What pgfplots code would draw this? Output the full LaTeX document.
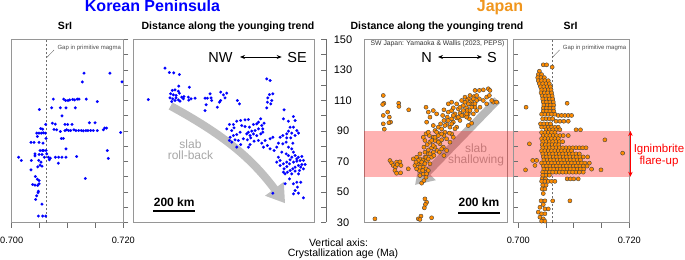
\documentclass[border=0pt]{standalone}
\usepackage{fontspec}
\setmainfont{Liberation Sans}
\usepackage{pgfplots}
\pgfplotsset{compat=1.18}
\usetikzlibrary{arrows.meta}
\definecolor{kblue}{RGB}{0,0,255}
\definecolor{jorange}{RGB}{255,140,0}
\definecolor{jtitle}{RGB}{240,150,30}
\definecolor{framec}{RGB}{150,150,150}
\definecolor{tickc}{RGB}{110,110,110}
\begin{document}
\begin{tikzpicture}
\path[use as bounding box] (0,0) rectangle (685bp,260bp);
\pgfplotsset{
 panel/.style={scale only axis, height=183bp, ymin=30, ymax=150, anchor=south west,
   axis line style={framec, line width=0.7bp}, tick style={tickc, line width=0.7bp},
   major tick length=5bp, xtick=\empty, ytick=\empty,
   tick label style={font=\fontsize{9.2bp}{10bp}\selectfont}},
 kdots/.style={only marks, mark=*, mark size=1.45bp, mark options={fill=kblue, draw=kblue, line width=0.1bp}},
 jdots/.style={only marks, mark=*, mark size=2.05bp, mark options={fill=jorange, draw=black!75, line width=0.4bp}},
}
% ---------------- Panel 1: Korea SrI
\begin{axis}[panel, at={(11.7bp,37.5bp)}, width=111.6bp, xmin=0.700, xmax=0.720,
  xtick={0.700,0.705,0.710,0.715,0.720}, xticklabels={0.700,,,,0.720},
  ytick={30,40,...,150}, yticklabels={}, xtick pos=left, ytick pos=right, tick align=outside,
  xticklabel style={yshift=-6bp}]
\draw[tickc, dash pattern=on 2.5bp off 1.5bp, line width=0.6bp] (axis cs:0.7062,30) -- (axis cs:0.7062,150);
\addplot[kdots] coordinates {
(0.71296,127.9)(0.71761,127.9)(0.71266,122.2)(0.71976,122.2)
(0.70746,110.9)(0.70931,110.9)(0.70967,110.0)(0.71009,110.0)(0.71039,110.4)(0.71093,110.7)(0.71128,110.4)(0.71176,110.9)(0.71206,110.9)(0.71337,110.9)(0.71534,109.3)
(0.70496,104.1)(0.70716,105.2)(0.70872,105.2)(0.70973,105.2)(0.71140,105.2)(0.70901,99.9)
(0.70609,94.3)(0.70728,95.1)(0.70782,94.5)(0.70955,94.3)(0.71003,94.3)(0.71081,94.3)(0.71391,95.4)(0.71493,95.4)
(0.70519,91.6)(0.70555,91.2)(0.70758,91.0)(0.70806,90.8)(0.70872,89.7)(0.70955,90.3)(0.70985,90.8)(0.71021,90.3)(0.71057,90.3)(0.71116,90.8)(0.71152,90.3)(0.71200,90.3)(0.71248,90.3)(0.71284,90.1)(0.71331,90.3)(0.71367,90.3)(0.71415,90.3)(0.71463,90.3)(0.71534,90.3)(0.71642,90.8)(0.71666,91.9)(0.71701,91.9)(0.71952,89.0)
(0.70448,88.6)(0.70490,88.6)(0.70531,88.6)(0.70567,88.8)(0.70603,88.6)(0.70460,86.4)(0.70615,85.1)(0.70890,85.1)(0.70925,85.1)
(0.70346,82.5)(0.70400,82.5)(0.70490,82.5)(0.70561,82.0)(0.70973,78.3)(0.71713,77.2)(0.70508,77.2)(0.70549,77.2)(0.70573,77.2)(0.70615,77.2)
(0.70418,75.0)(0.70490,74.6)(0.70543,74.6)(0.70627,75.0)
(0.70125,72.8)(0.70173,70.7)(0.70418,73.7)(0.70585,72.8)(0.70657,72.8)(0.70693,72.2)(0.70782,72.8)(0.70842,72.8)(0.70901,72.8)(0.70973,72.8)(0.71164,73.3)(0.71731,72.0)
(0.70352,70.7)(0.70484,70.7)(0.70525,69.6)(0.70675,71.1)(0.70836,68.9)
(0.70508,67.6)(0.70466,66.5)(0.70543,66.9)(0.70346,64.5)(0.70424,60.2)(0.70460,58.4)(0.70490,57.5)(0.71320,58.9)
(0.70376,54.9)(0.70418,54.5)(0.70466,54.3)(0.70490,55.4)
(0.70478,50.5)(0.70472,49.5)(0.70448,47.5)(0.70430,45.1)(0.70543,42.0)
(0.70478,34.2)(0.70555,34.2)(0.70609,34.2)};
\end{axis}
% ---------------- Panel 2: Korea distance
\begin{axis}[panel, at={(133.3bp,37.5bp)}, width=181bp, xmin=0, xmax=868]
\draw[black!25, line width=8bp, -{Triangle[width=22bp,length=18bp]}] (axis cs:179,106.4) .. controls (axis cs:419.5,88.4) and (axis cs:560,73.6) .. (axis cs:728,42.6);
\addplot[kdots] coordinates {
(72,110.6)(152,131.2)(173,128.4)(194,128.1)(221,127.0)(218,119.4)(269,118.7)
(187,116.6)(200,117.0)(216,116.1)(179,114.4)(192,113.7)(205,113.3)(221,114.8)(176,111.7)(189,111.1)(205,111.7)(216,110.4)(232,112.2)(240,111.1)(184,109.3)(224,109.6)(243,112.6)(200,110.0)
(264,112.2)(277,111.1)(296,111.5)(266,110.2)(344,111.5)(368,114.4)(355,111.5)(373,111.7)(376,110.0)(349,107.2)(344,103.4)(403,105.6)(419,115.5)(432,113.7)(440,111.7)(419,110.0)(413,108.9)(448,114.8)(499,110.0)(509,107.8)
(640,124.2)(656,123.1)(669,114.4)(653,113.9)(645,111.7)(664,110.0)(643,108.9)(659,107.8)(640,105.2)
(536,97.3)(552,97.5)(515,96.9)(496,96.4)(480,94.3)(461,94.3)(448,91.4)(472,90.3)(483,92.1)(520,93.6)(536,92.9)(557,92.5)(576,94.3)(592,94.7)(611,98.0)(600,95.8)(616,93.6)(627,95.1)(621,91.4)(600,91.4)(584,90.3)(568,89.9)(552,89.2)(544,88.1)(560,87.0)(576,88.1)(592,87.0)(611,88.1)(621,89.2)(512,89.2)(496,87.7)(480,87.0)(464,85.9)(461,83.8)(472,82.7)(488,84.2)(504,83.8)(515,81.1)(496,79.4)(528,84.9)(547,84.2)(563,85.5)(579,83.3)(560,81.1)(552,79.4)(600,83.8)(616,82.0)(632,83.8)(643,80.5)(656,84.9)(669,85.9)(624,79.4)(656,78.3)(675,77.2)(688,79.4)(696,82.0)(704,85.9)(717,87.0)(736,85.5)(733,82.7)
(723,103.9)(720,98.0)(744,96.4)(768,99.5)(776,96.9)(752,92.5)(768,92.5)(784,90.3)(744,89.9)(760,88.6)(776,87.0)(792,88.6)(755,85.5)(736,88.1)(765,82.0)(712,76.1)(733,75.0)(744,73.9)(760,72.8)(776,73.9)(792,72.8)(808,73.3)(816,70.7)(800,70.7)(784,70.2)(768,69.6)(752,71.1)(736,69.6)(720,68.5)(704,67.4)(688,69.6)(723,65.2)(736,66.7)(752,64.1)(776,66.3)(792,67.4)(808,68.0)(824,68.0)(816,65.2)(797,64.1)(776,63.7)(760,61.9)(739,63.0)(728,61.9)(720,63.0)(749,58.6)(728,55.4)(768,55.4)(784,56.4)(803,56.4)(787,53.2)(776,51.0)(768,48.8)(792,49.2)(816,46.2)(669,49.2)
(696,72.8)(704,70.7)(784,71.7)(803,66.3)(765,65.2)(749,68.5)(792,61.9)(717,81.6)(744,79.4)(760,78.3)(768,76.1)};
\end{axis}
% ---------------- Y axis of panel 3
\begin{axis}[scale only axis, anchor=south west, at={(320bp,37.5bp)}, width=6bp, height=183bp,
  xmin=0, xmax=1, ymin=30, ymax=150, axis x line=none, axis y line=right,
  axis line style={tickc, line width=0.7bp, -}, tick style={tickc, line width=0.7bp},
  major tick length=5.5bp, tick align=inside, xtick=\empty,
  ytick={30,40,...,150}, yticklabels={30,,50,,70,,90,,110,,130,,150},
  yticklabel style={anchor=center, xshift=17bp, font=\fontsize{11bp}{12bp}\selectfont}]
\addplot[draw=none] coordinates {(0,30)};
\end{axis}
% ---------------- Panel 3: Japan distance
\begin{axis}[panel, at={(364.3bp,37.5bp)}, width=143bp, xmin=0, xmax=686, clip=false]
\draw[black!28, line width=8bp, -{Triangle[width=22bp,length=18bp]}] (axis cs:638,110.3) -- (axis cs:243,54.6);
\node[anchor=base, text=black!32, font=\fontsize{12bp}{13bp}\selectfont] at (axis cs:536,75.8) {slab};
\node[anchor=base, text=black!32, font=\fontsize{12bp}{13bp}\selectfont] at (axis cs:536,68.4) {shallowing};
\fill[red, opacity=0.3] (axis cs:0,60) rectangle (axis cs:1272,90);
\addplot[jdots] coordinates {
(91,113.3)(94,108.2)(88,107.4)(91,100.2)(112,102.4)(120,99.1)(91,94.7)(96,91.2)(126,95.8)(118,95.4)(165,108.2)(166,106.1)(213,103.9)
(123,70.65)(131,69.1)(139,67.4)(149,66.3)(155,69.6)(158,68.0)(171,69.8)(176,67.4)(147,64.1)(155,62.3)(174,62.6)(211,65.2)
(291,45.5)(299,43.3)(293,41.8)(288,39.6)(259,32.4)(272,34.2)(267,32.0)(323,33.1)(51,32.4)
(275,55.8)(286,57.5)(296,59.7)(267,60.8)(283,61.9)(264,64.1)(251,65.2)(243,67.4)(256,68.5)(270,67.4)(283,66.3)(296,65.2)(307,64.1)
(235,71.7)(251,72.8)(267,71.7)(283,71.1)(299,70.7)(315,68.5)(323,72.8)(267,75.0)(291,76.1)(307,75.0)(331,76.1)
(286,79.4)(302,81.1)(291,83.8)(315,82.7)(339,79.4)(350,77.2)(283,85.9)(296,88.1)(312,87.0)(331,85.9)(347,83.8)(363,81.6)(379,79.4)
(339,90.3)(355,92.5)(331,93.6)(371,91.4)(387,89.2)(360,88.1)(366,94.7)(382,96.9)(395,94.3)(411,92.5)
(376,100.2)(398,99.1)(419,98.0)(427,95.8)(403,102.4)(419,103.4)(435,101.2)(443,98.6)(451,104.5)(459,101.7)(475,100.2)
(296,105.6)(307,102.4)(315,99.1)(299,95.8)(331,103.4)(347,101.2)(382,103.9)(427,105.2)
(467,110.0)(475,106.7)(491,105.2)(499,101.2)(504,98.0)(515,95.1)(499,93.6)
(483,112.2)(499,111.1)(515,110.0)(523,107.8)(531,105.6)(507,113.3)(526,112.6)(539,113.3)(531,116.6)(552,116.6)(571,117.0)(552,111.1)(571,110.0)(555,105.6)
(587,112.2)(600,113.3)(595,117.7)(603,116.6)(619,108.9)(587,107.8)(611,110.0)(635,108.9)
(523,101.2)(494,103.4)(443,107.8)(419,108.9)(403,107.8)(491,99.1)(459,96.9)(443,92.5)(419,88.1)(395,84.9)(371,84.2)(355,87.0)(339,83.8)(323,79.0)(307,77.6)(334,73.9)(360,76.1)(382,73.9)(395,77.2)(411,82.7)(427,85.9)(382,87.0)(408,88.6)
(491,110.0)(507,107.8)(515,105.6)(499,107.8)(483,108.9)(507,103.4)(491,101.2)(523,111.1)(539,110.0)(531,107.8)(539,103.4)(475,103.4)(459,105.6)(467,100.2)(451,99.1)(427,100.2)(419,94.7)(435,91.4)(403,96.9)(387,93.6)(371,88.1)(347,89.2)(339,85.9)(323,83.8)(307,89.2)
(315,75.0)(291,72.8)(275,69.6)(259,70.7)(267,66.3)(280,64.1)(291,68.5)(299,61.9)(248,69.6)(296,72.8)(307,71.7)(331,80.5)(355,82.7)(371,78.3)};
\end{axis}
% ---------------- Panel 4: Japan SrI
\begin{axis}[panel, at={(513.3bp,37.5bp)}, width=116bp, xmin=0.6991, xmax=0.720, clip=false,
  xtick={0.700,0.705,0.710,0.715,0.720}, xticklabels={0.700,,,,0.720},
  ytick={30,40,...,150}, yticklabels={}, xtick pos=left, ytick pos=left, tick align=outside,
  y tick style={xshift=5bp}, xticklabel style={yshift=-6bp}]
\draw[tickc, dash pattern=on 2.5bp off 1.5bp, line width=0.6bp] (axis cs:0.7061,30) -- (axis cs:0.7061,150);
\addplot[jdots] coordinates {
(0.7045,133.4)(0.7051,133.4)(0.7061,131.9)(0.7038,129.2)(0.7036,127)(0.7042,127)
(0.7035,125)(0.7041,125)(0.7047,125)
(0.7036,123)(0.7042,123)(0.7048,123)(0.7054,123)
(0.7038,121)(0.7044,121)(0.7050,121)(0.7056,121)
(0.7040,119)(0.7046,119)(0.7052,119)(0.7058,119)
(0.7042,117)(0.7048,117)(0.7054,117)(0.7059,117)
(0.7041,115)(0.7047,115)(0.7053,115)(0.7060,115)
(0.7043,113)(0.7049,113)(0.7055,113)(0.7061,113)
(0.7044,111)(0.7050,111)(0.7056,111)(0.7062,111)
(0.7045,109)(0.7051,109)(0.7057,109)(0.7063,109)
(0.7046,107)(0.7052,107)(0.7058,107)(0.7064,107)(0.7088,108.2)(0.7014,105.6)
(0.7045,105)(0.7051,105)(0.7057,105)(0.7063,105)
(0.7045,103)(0.7051,103)(0.7057,103)(0.7064,103)
(0.7042,101)(0.7048,101)(0.7054,101)(0.7060,101)(0.7066,101)
(0.7072,100.2)(0.7078,100.2)(0.7084,100.2)(0.7090,100.2)(0.7096,100.2)
(0.7044,98)(0.7050,98)(0.7056,98)(0.7062,98)
(0.7068,96.4)(0.7075,96.4)(0.7082,96.4)(0.7090,96.4)
(0.7040,94.7)(0.7046,94.7)(0.7052,94.7)(0.7058,94.7)
(0.7042,92.5)(0.7048,92.5)(0.7054,92.5)(0.7060,92.5)(0.7066,92.5)(0.7072,92.5)
(0.7050,90.8)(0.7056,90.8)(0.7062,90.8)(0.7068,90.8)(0.7075,90.8)(0.7104,90.8)(0.7112,90.8)
(0.7042,89)(0.7048,89)(0.7054,89)(0.7060,89)(0.7066,89)
(0.7045,87)(0.7051,87)(0.7057,87)(0.7063,87)(0.7069,87)(0.7075,87)(0.7081,87)(0.7090,87)
(0.7042,85)(0.7048,85)(0.7054,85)(0.7060,85)(0.7066,85)(0.7072,85)
(0.7044,83)(0.7050,83)(0.7056,83)(0.7062,83)(0.7068,83)(0.7074,83)(0.7080,83)(0.7156,84.2)(0.7020,81.6)
(0.7043,81)(0.7049,81)(0.7055,81)(0.7061,81)(0.7067,81)(0.7073,81)
(0.7044,79)(0.7050,79)(0.7056,79)(0.7062,79)(0.7068,79)(0.7074,79)(0.7080,79)(0.7086,79)(0.7092,79)(0.7098,79)(0.7104,79)(0.7110,79)(0.7116,79)(0.7122,79)
(0.7042,77)(0.7048,77)(0.7054,77)(0.7060,77)(0.7066,77)(0.7072,77)(0.7078,77)(0.7084,77)(0.7090,77)(0.7096,77)(0.7188,75.5)
(0.7044,75)(0.7050,75)(0.7056,75)(0.7062,75)(0.7068,75)(0.7074,75)(0.7080,75)(0.7086,75)(0.7092,75)(0.7098,75)(0.7104,75)(0.7110,75)
(0.7045,73)(0.7051,73)(0.7057,73)(0.7063,73)(0.7069,73)(0.7075,73)(0.7081,73)(0.7087,73)(0.7093,73)(0.7099,73)(0.7105,73)(0.7111,73)(0.7117,73)(0.7125,73)
(0.7046,71)(0.7052,71)(0.7058,71)(0.7064,71)(0.7070,71)(0.7076,71)(0.7082,71)(0.7088,71)(0.7094,71)(0.7100,71)(0.7106,71)(0.7112,71)(0.7026,70.7)(0.7033,70.7)
(0.7042,69)(0.7048,69)(0.7054,69)(0.7060,69)(0.7066,69)(0.7072,69)(0.7078,69)(0.7084,69)(0.7090,69)(0.7096,69)(0.7102,69)(0.7108,69)(0.7114,69)(0.7120,69)(0.7128,69)(0.7030,67.4)
(0.7045,67)(0.7051,67)(0.7057,67)(0.7063,67)(0.7069,67)(0.7075,67)(0.7081,67)(0.7087,67)(0.7093,67)(0.7099,67)(0.7105,67)(0.7111,67)(0.7117,67)(0.7124,67)
(0.7046,65)(0.7052,65)(0.7058,65)(0.7064,65)(0.7070,65)(0.7076,65)(0.7082,65)(0.7088,65)(0.7094,65)(0.7100,65)(0.7106,65)(0.7112,65)(0.7118,65)(0.7132,65)(0.7013,64.5)(0.7149,64.5)
(0.7044,63)(0.7050,63)(0.7056,63)(0.7062,63)(0.7068,63)(0.7074,63)(0.7080,63)(0.7086,63)(0.7092,63)(0.7098,63)(0.7104,63)(0.7110,63)(0.7117,63)
(0.7044,61)(0.7050,61)(0.7056,61)
(0.7043,58.6)(0.7049,58.6)(0.7088,58.6)(0.7094,58.6)(0.7100,58.6)(0.7108,58.6)
(0.7042,57)(0.7048,57)(0.7054,57)(0.7060,57)(0.7066,57)
(0.7044,54.5)(0.7050,54.5)(0.7043,52)(0.7048,52)(0.7045,49)
(0.7041,44.2)(0.7048,44.2)(0.7062,44.2)(0.7093,44.2)(0.7045,41.8)(0.7039,40)(0.7048,38.9)(0.7054,38.9)
(0.7036,36.8)(0.7042,35.7)(0.7048,35.7)(0.7039,33.5)(0.7045,32.4)(0.7042,30.9)(0.7048,30.9)};
\draw[red, line width=1.1bp, {Stealth[length=5bp,width=4.5bp]}-{Stealth[length=5bp,width=4.5bp]}] (axis cs:0.7202,90) -- (axis cs:0.7202,60);
\end{axis}
% ---------------- texts and annotations
\node[anchor=base, text=kblue, font=\bfseries\fontsize{16bp}{19bp}\selectfont] at (152.5bp,248.3bp) {Korean Peninsula};
\node[anchor=base, text=jtitle, font=\bfseries\fontsize{16bp}{19bp}\selectfont] at (500bp,248.3bp) {Japan};
\node[anchor=base, font=\bfseries\fontsize{10.5bp}{12bp}\selectfont] at (65bp,230.7bp) {SrI};
\node[anchor=base, font=\bfseries\fontsize{10.5bp}{12bp}\selectfont] at (228bp,230.7bp) {Distance along the younging trend};
\node[anchor=base, font=\bfseries\fontsize{10.5bp}{12bp}\selectfont] at (437bp,230.7bp) {Distance along the younging trend};
\node[anchor=base, font=\bfseries\fontsize{10.5bp}{12bp}\selectfont] at (570.5bp,230.7bp) {SrI};
% gap labels
\draw[tickc, line width=0.4bp] (47bp,202.7bp) -- (54bp,210bp);
\node[anchor=base west, inner sep=0pt, text=black!70, font=\fontsize{6bp}{7bp}\selectfont] at (57.3bp,210.7bp) {Gap in primitive magma};
\draw[tickc, line width=0.4bp] (552.5bp,202.7bp) -- (559.5bp,210bp);
\node[anchor=base west, inner sep=0pt, text=black!70, font=\fontsize{6bp}{7bp}\selectfont] at (562.7bp,210.7bp) {Gap in primitive magma};
% NW SE
\node[anchor=base, font=\fontsize{14.5bp}{16bp}\selectfont] at (220.5bp,197.7bp) {NW};
\node[anchor=base, font=\fontsize{14.5bp}{16bp}\selectfont] at (297bp,197.7bp) {SE};
\draw[line width=0.7bp, {Stealth[length=5bp,width=4bp]}-{Stealth[length=5bp,width=4bp]}] (240bp,203bp) -- (281.7bp,203bp);
\node[anchor=base, font=\fontsize{14.5bp}{16bp}\selectfont] at (426.5bp,197.7bp) {N};
\node[anchor=base, font=\fontsize{14.5bp}{16bp}\selectfont] at (492bp,197.7bp) {S};
\draw[line width=0.7bp, {Stealth[length=5bp,width=4bp]}-{Stealth[length=5bp,width=4bp]}] (438bp,203bp) -- (482bp,203bp);
\node[anchor=base, text=black!80, font=\fontsize{6.8bp}{8bp}\selectfont] at (437.5bp,214bp) {SW Japan: Yamaoka \& Wallis (2023, PEPS)};
% slab roll-back
\node[anchor=base, text=black!35, font=\fontsize{12bp}{13bp}\selectfont] at (190.5bp,111.7bp) {slab};
\node[anchor=base, text=black!35, font=\fontsize{12bp}{13bp}\selectfont] at (190.5bp,100.7bp) {roll-back};
% scale bars
\node[anchor=base, font=\bfseries\fontsize{12bp}{13bp}\selectfont] at (174.2bp,53.3bp) {200 km};
\draw[line width=2bp] (153.3bp,49.3bp) -- (195bp,49.3bp);
\node[anchor=base, font=\bfseries\fontsize{12bp}{13bp}\selectfont] at (479bp,53.3bp) {200 km};
\draw[line width=2bp] (458bp,47bp) -- (500bp,47bp);
% ignimbrite
\node[anchor=base, text=red, font=\fontsize{11.5bp}{13bp}\selectfont] at (659bp,107.8bp) {Ignimbrite};
\node[anchor=base, text=red, font=\fontsize{11.5bp}{13bp}\selectfont] at (659bp,95bp) {flare-up};
% vertical axis note
\node[anchor=base, font=\fontsize{10.5bp}{12bp}\selectfont] at (338.5bp,14bp) {Vertical axis:};
\node[anchor=base, font=\fontsize{10.5bp}{12bp}\selectfont] at (343bp,3.5bp) {Crystallization age (Ma)};
\end{tikzpicture}
\end{document}
